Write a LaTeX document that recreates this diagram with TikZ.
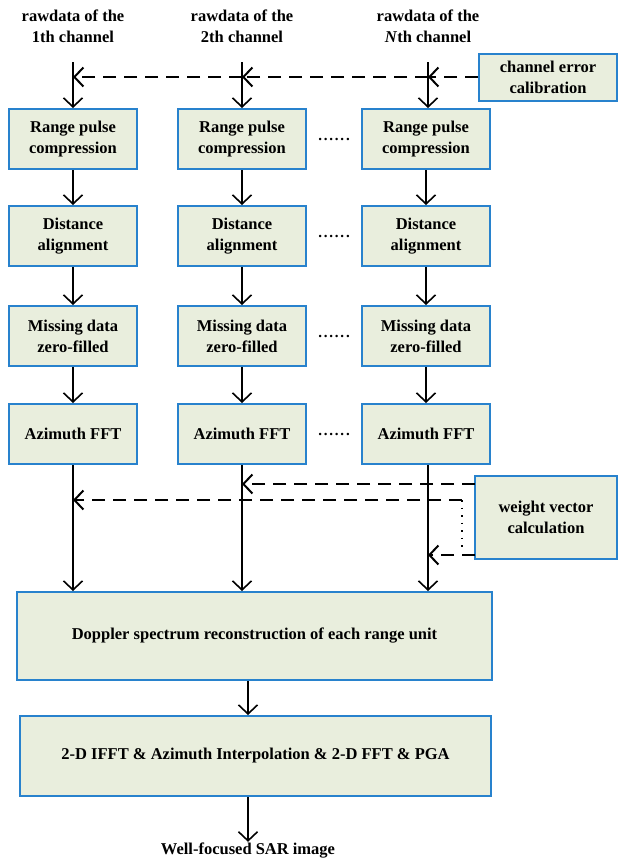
\documentclass[tikz,border=0pt]{standalone}
\usepackage{fontspec}
\setmainfont{Liberation Serif}
\usetikzlibrary{arrows.meta}
\definecolor{boxfill}{RGB}{233,238,221}
\definecolor{boxline}{RGB}{40,130,205}
\begin{document}
\begin{tikzpicture}[x=1pt,y=-1pt,
  txt/.style={align=center,font=\fontsize{16.5}{21}\selectfont\bfseries},
  box/.style={txt,draw=boxline,fill=boxfill,line width=2pt,inner sep=0pt},
  colbox/.style={box,minimum width=128pt,minimum height=60pt},
  arr/.style={-{Straight Barb[length=9pt,width=19pt]},line width=1.6pt},
  dsh/.style={arr,line width=2pt,dash pattern=on 13pt off 8pt},
  dots/.style={font=\fontsize{15}{18}\selectfont\bfseries}]
\useasboundingbox (0,0) rectangle (621,860);

% channel titles
\node[txt] (t1) at (73,26) {rawdata of the\\1th channel};
\node[txt] (t2) at (242,26) {rawdata of the\\2th channel};
\node[txt] (t3) at (428,26) {rawdata of the\\\textit{N}th channel};
\coordinate (s1) at (73,62);
\coordinate (s2) at (242,62);
\coordinate (s3) at (428,62);

% calibration box
\node[box,minimum width=138pt,minimum height=47pt] (cal) at (548,77) {channel error\\calibration};

% column boxes
\foreach \c/\x in {1/73,2/242,3/426}{
  \node[colbox] (r\c) at (\x,139) {Range pulse\\compression};
  \node[colbox] (d\c) at (\x,236) {Distance\\alignment};
  \node[colbox] (m\c) at (\x,336) {Missing data\\zero-filled};
  \node[colbox] (a\c) at (\x,434) {Azimuth FFT};
}
\foreach \y/\n in {139/p1,236/p2,336/p3,434/p4}{
  \node[dots] (\n) at (334,\y) {.\kern1.8pt.\kern1.8pt.\kern1.8pt.\kern1.8pt.\kern1.8pt.};
}

% weight box
\node[box,minimum width=142pt,minimum height=83pt] (wv) at (546,517.5) {weight vector\\calculation};

% big boxes
\node[box,minimum width=475pt,minimum height=88pt] (dop) at (254.5,636) {Doppler spectrum reconstruction of each range unit};
\node[box,minimum width=471pt,minimum height=80pt] (ifft) at (255.5,756) {2-D IFFT \& Azimuth Interpolation \& 2-D FFT \& PGA};
\node[txt] (out) at (248,851) {Well-focused SAR image};

% vertical flows
\foreach \c in {1,2,3}{
  \draw[arr] (s\c) -- (s\c |- r\c.north);
  \draw[arr] (r\c.south) -- (d\c.north);
  \draw[arr] (d\c.south) -- (m\c.north);
  \draw[arr] (m\c.south) -- (a\c.north);
}
\draw[arr] (a1.south -| s1) -- (s1 |- dop.north);
\draw[arr] (a2.south) -- (a2.south |- dop.north);
\draw[arr] (a3.south -| s3) -- (s3 |- dop.north);
\draw[arr] (dop.south -| out) -- (out |- ifft.north);
\draw[arr] (ifft.south -| out) -- ([yshift=-2pt]out.north);

% calibration dashed feeds
\draw[dsh] (cal.west) -- (cal.west -| s3);
\draw[dsh] (cal.west -| s3) -- (cal.west -| s2);
\draw[dsh] (cal.west -| s2) -- (cal.west -| s1);

% weight vector feeds
\coordinate (wa) at (475,484);
\coordinate (wb) at (462,500);
\coordinate (wc) at (462,550);
\coordinate (wd) at (475,555);
\draw[dsh] (wa) -- (wa -| a2.south);
\draw[dsh] (wb) -- (wb -| s1);
\draw[line width=1.4pt,dash pattern=on 1.5pt off 6pt] (wb) -- (wc);
\draw[dsh] (wd) -- (wd -| s3);
\end{tikzpicture}
\end{document}
